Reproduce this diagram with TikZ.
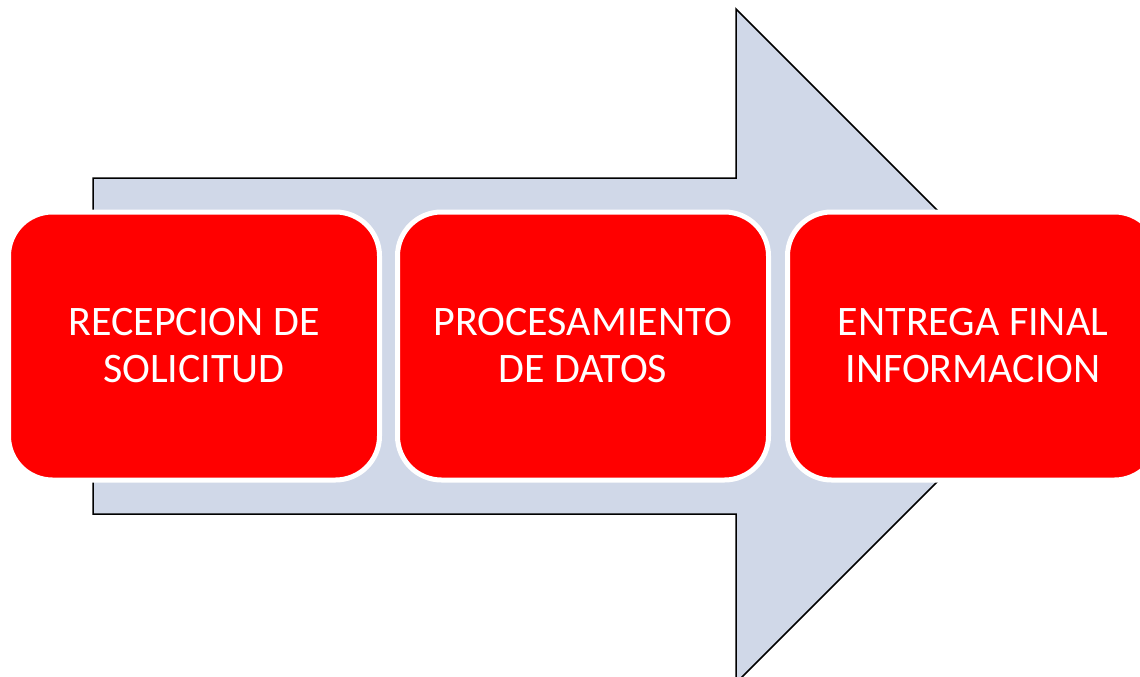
\documentclass[tikz,border=0pt]{standalone}
\usepackage{fontspec}
\setmainfont{Carlito}
\usepackage{xcolor}
\usepackage{tikz}
\usetikzlibrary{
  calc,
  shapes
}
\definecolor{arrowfill}{HTML}{D0D8E8}
\definecolor{boxred}{HTML}{FF0000}
\tikzset{
  stepbox/.style={
    draw=white,
    fill=boxred,
    line width=5pt,
    rounded corners=44pt,
    minimum width=371pt,
    minimum height=268pt,
    align=center,
    text=white,
    font=\fontsize{42}{47}\selectfont}
  }

\begin{document}
\begin{tikzpicture}[x=1pt,y=-1pt]
		\useasboundingbox (0,0) rectangle (1140,677);
		\clip (0,0) rectangle (1140,677);
		\fill [white] (0,0) rectangle (1140,677);
		\draw [fill=arrowfill, line width=1.5pt] (93,178) -- (736,178) -- (736,9) -- (1073,346) -- (736,683) -- (736,514) -- (93,514) -- cycle;
		\node [stepbox] (rec) at (194,346) {RECEPCION DE\\SOLICITUD};
		\node [stepbox] (proc) at (583,346) {PROCESAMIENTO\\DE DATOS};
		\node [stepbox] (ent) at (973,346) {ENTREGA FINAL\\INFORMACION};
	\end{tikzpicture}
\end{document}
